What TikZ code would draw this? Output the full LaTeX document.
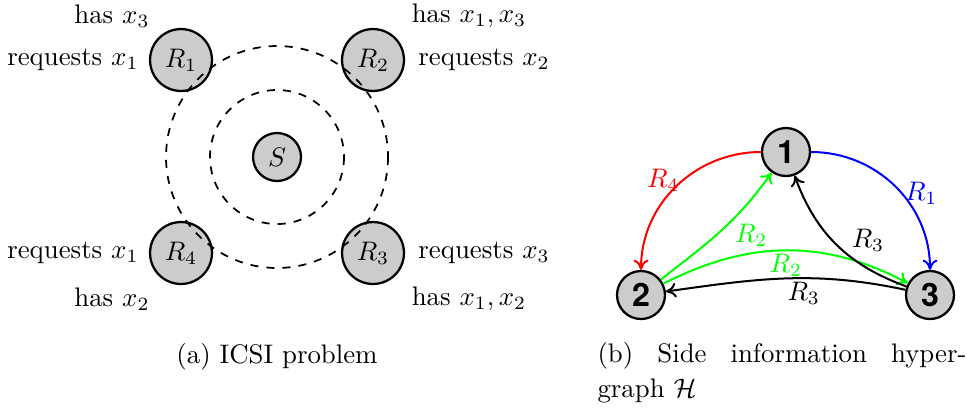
\documentclass[tikz,border=0pt]{standalone}
\usepackage{fontspec}
\newfontfamily\numfont{TeX Gyre Heros}
\usetikzlibrary{arrows.meta}
\tikzset{
  rx/.style={circle,draw,line width=0.85pt,fill=black!20,minimum size=23.1pt,inner sep=0pt},
  srv/.style={circle,draw,line width=0.85pt,fill=black!20,minimum size=17.9pt,inner sep=0pt},
  vtx/.style={circle,draw,line width=0.85pt,fill=black!20,minimum size=17.9pt,inner sep=0pt,font=\numfont\bfseries\large},
  ring/.style={dashed,line width=0.65pt},
  arc/.style={line width=0.75pt,-{To[length=3.8pt,width=5.5pt]}},
  lbl/.style={inner sep=1pt}
}
\begin{document}
\begin{tikzpicture}[x=0.373pt,y=-0.373pt]
\useasboundingbox (0,0) rectangle (967,414);

% ---- (a) receivers around the server
\node[rx]  (R1) at (181,60)  {$R_1$};
\node[rx]  (R2) at (373,60)  {$R_2$};
\node[rx]  (R4) at (181,253) {$R_4$};
\node[rx]  (R3) at (373,253) {$R_3$};
\node[srv] (S)  at (277,157) {$S$};
\draw[ring] (S.center) circle[radius=67];
\draw[ring] (S.center) circle[radius=111];

\node[anchor=east] (q1) at (148,60)  {requests $x_1$};
\node[anchor=west] (q2) at (409,60)  {requests $x_2$};
\node[anchor=east] (q4) at (148,253) {requests $x_1$};
\node[anchor=west] (q3) at (409,253) {requests $x_3$};
\node (h1) at (112,16)  {has $x_3$};
\node (h2) at (469,16)  {has $x_1,x_3$};
\node (h4) at (112,299) {has $x_2$};
\node (h3) at (469,299) {has $x_1,x_2$};

\node (capa) at (277,357) {(a) ICSI problem};

% ---- (b) side information hypergraph
\node[vtx] (n1) at (786,152) {1};
\node[vtx] (n2) at (641,295) {2};
\node[vtx] (n3) at (930,295) {3};

\draw[arc,red]   (n1) to[out=180,in=90] node[lbl,pos=0.45,left,text=red] {$R_4$} (n2);
\draw[arc,blue]  (n1) to[out=0,in=90]   node[lbl,pos=0.55,right,text=blue] {$R_1$} (n3);
\draw[arc,green] (n2) to[out=38,in=235] node[lbl,pos=0.6,below right,text=green] {$R_2$} (n1);
\draw[arc,green] (n2) to[out=27,in=152] node[lbl,pos=0.5,below,text=green] {$R_2$} (n3);
\draw[arc]       (n3) to[out=168,in=8]  node[lbl,pos=0.42,below] {$R_3$} (n2);
\draw[arc]       (n3) to[out=160,in=290] node[lbl,pos=0.4,above right] {$R_3$} (n1);

\node[anchor=base west,inner sep=0pt] (capb1) at (597,362) {\makebox[137.6pt][s]{(b) Side information hyper-}};
\node[anchor=base west,inner sep=0pt] (capb2) at (597,397) {graph $\mathcal{H}$};
\end{tikzpicture}
\end{document}
